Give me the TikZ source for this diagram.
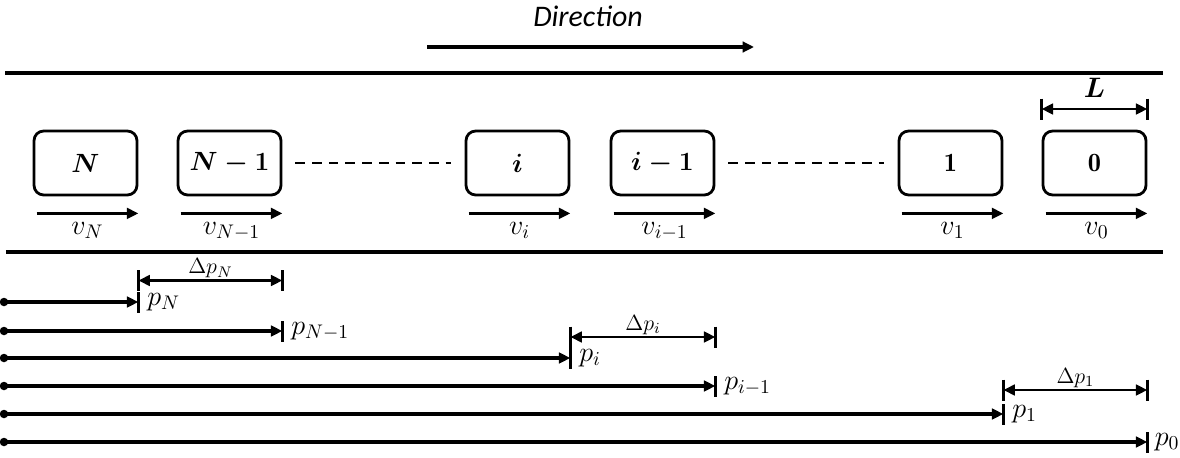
\RequirePackage{fix-cm}
\documentclass[tikz,border=0pt]{standalone}
\usepackage{amsmath}
\usepackage{fontspec}
\newfontfamily\dirfont{Carlito}
\usetikzlibrary{arrows.meta,calc}

\tikzset{
  car/.style={draw, line width=1.6pt, rounded corners=5.5pt, minimum width=2.06cm, minimum height=1.28cm, inner sep=0pt, font=\fontsize{15}{18}\selectfont},
  road/.style={line width=2pt},
  mv/.style={line width=1.8pt, -{Triangle[length=6.5pt,width=6pt]}},
  dimline/.style={line width=1.7pt, {Triangle[length=6.5pt,width=6pt]}-{Triangle[length=6.5pt,width=6pt]}},
  endbar/.style={line width=1.8pt},
  dashgap/.style={line width=1.6pt, dash pattern=on 5.5pt off 4pt, shorten <=0.26cm, shorten >=0.28cm},
  lbl/.style={font=\fontsize{16}{19}\selectfont, inner sep=0pt},
  dlbl/.style={font=\fontsize{12.5}{15}\selectfont, inner sep=0.5pt},
}

\begin{document}
\begin{tikzpicture}
\useasboundingbox (0,0) rectangle (23.6,9.14);

% direction of travel
\node[anchor=base, inner sep=0pt, font=\dirfont\itshape\fontsize{17}{20}\selectfont] (dir) at (11.76,8.60) {Direction};
\coordinate (d1) at (8.54,8.20);
\coordinate (d2) at (15.08,8.20);
\draw[mv] (d1)--(d2);

% road
\coordinate (rt1) at (0.10,7.68);
\coordinate (rt2) at (23.26,7.68);
\coordinate (rb1) at (0.12,4.10);
\coordinate (rb2) at (23.26,4.10);
\draw[road] (rt1)--(rt2);
\draw[road] (rb1)--(rb2);

% vehicles
\node[car] (N) at (1.71,5.88) {$\boldsymbol{N}$};
\node[car] (Nm1) at (4.59,5.88) {$\boldsymbol{N-1}$};
\node[car] (i) at (10.35,5.88) {$\boldsymbol{i}$};
\node[car] (im1) at (13.25,5.88) {$\boldsymbol{i-1}$};
\node[car] (one) at (19.01,5.88) {$\mathbf{1}$};
\node[car] (zero) at (21.89,5.88) {$\mathbf{0}$};

\draw[dashgap] (Nm1.east)--(i.west);
\draw[dashgap] (im1.east)--(one.west);

% length L
\coordinate (yL) at (0,6.96);
\draw[dimline] (zero.west |- yL)--(zero.east |- yL) node[lbl, midway, anchor=base, yshift=0.24cm] (L) {$\boldsymbol{L}$};
\draw[endbar] (zero.west |- yL) ++(0,0.21)--++(0,-0.42);
\draw[endbar] (zero.east |- yL) ++(0,0.21)--++(0,-0.42);

% speeds
\draw[mv] ([xshift=0.08cm,yshift=-0.34cm]N.south west)--([yshift=-0.34cm]N.south east) node[lbl, midway, anchor=base, yshift=-0.42cm] (vN) {$v_N$};
\draw[mv] ([xshift=0.08cm,yshift=-0.34cm]Nm1.south west)--([yshift=-0.34cm]Nm1.south east) node[lbl, midway, anchor=base, yshift=-0.42cm] (vNm1) {$v_{N-1}$};
\draw[mv] ([xshift=0.08cm,yshift=-0.34cm]i.south west)--([yshift=-0.34cm]i.south east) node[lbl, midway, anchor=base, yshift=-0.42cm] (vi) {$v_i$};
\draw[mv] ([xshift=0.08cm,yshift=-0.34cm]im1.south west)--([yshift=-0.34cm]im1.south east) node[lbl, midway, anchor=base, yshift=-0.42cm] (vim1) {$v_{i-1}$};
\draw[mv] ([xshift=0.08cm,yshift=-0.34cm]one.south west)--([yshift=-0.34cm]one.south east) node[lbl, midway, anchor=base, yshift=-0.42cm] (v1) {$v_1$};
\draw[mv] ([xshift=0.08cm,yshift=-0.34cm]zero.south west)--([yshift=-0.34cm]zero.south east) node[lbl, midway, anchor=base, yshift=-0.42cm] (v0) {$v_0$};

% positions
\coordinate (r1) at (0.08,3.10);
\coordinate (r2) at (0.08,2.52);
\coordinate (r3) at (0.08,1.98);
\coordinate (r4) at (0.08,1.42);
\coordinate (r5) at (0.08,0.86);
\coordinate (r6) at (0.08,0.30);

\fill (r1) circle (0.085);
\fill (r2) circle (0.085);
\fill (r3) circle (0.085);
\fill (r4) circle (0.085);
\fill (r5) circle (0.085);
\fill (r6) circle (0.085);

\draw[mv] (r1)--(N.east |- r1);
\draw[mv] (r2)--(Nm1.east |- r2);
\draw[mv] (r3)--(i.east |- r3);
\draw[mv] (r4)--(im1.east |- r4);
\draw[mv] (r5)--(one.east |- r5);
\draw[mv] (r6)--(zero.east |- r6);

\draw[endbar] (N.east |- r1) ++(0,0.2)--++(0,-0.42);
\draw[endbar] (Nm1.east |- r2) ++(0,0.2)--++(0,-0.42);
\draw[endbar] (i.east |- r3) ++(0,0.2)--++(0,-0.42);
\draw[endbar] (im1.east |- r4) ++(0,0.2)--++(0,-0.42);
\draw[endbar] (one.east |- r5) ++(0,0.2)--++(0,-0.42);
\draw[endbar] (zero.east |- r6) ++(0,0.2)--++(0,-0.42);

\node[lbl, anchor=base west] (pN) at ($(N.east |- r1)+(0.17,-0.06)$) {$p_N$};
\node[lbl, anchor=base west] (pNm1) at ($(Nm1.east |- r2)+(0.17,-0.06)$) {$p_{N-1}$};
\node[lbl, anchor=base west] (pi) at ($(i.east |- r3)+(0.17,-0.06)$) {$p_i$};
\node[lbl, anchor=base west] (pim1) at ($(im1.east |- r4)+(0.17,-0.06)$) {$p_{i-1}$};
\node[lbl, anchor=base west] (p1) at ($(one.east |- r5)+(0.17,-0.06)$) {$p_1$};
\node[lbl, anchor=base west] (p0) at ($(zero.east |- r6)+(0.14,-0.06)$) {$p_0$};

% gaps
\coordinate (dN) at (0,3.53);
\coordinate (di) at (0,2.40);
\coordinate (d1g) at (0,1.34);

\draw[dimline] (N.east |- dN)--(Nm1.east |- dN) node[dlbl, midway, above] (DpN) {$\Delta p_N$};
\draw[endbar] (N.east |- dN) ++(0,0.21)--++(0,-0.42);
\draw[endbar] (Nm1.east |- dN) ++(0,0.21)--++(0,-0.42);

\draw[dimline] (i.east |- di)--(im1.east |- di) node[dlbl, midway, above] (Dpi) {$\Delta p_i$};
\draw[endbar] (i.east |- di) ++(0,0.21)--++(0,-0.42);
\draw[endbar] (im1.east |- di) ++(0,0.21)--++(0,-0.42);

\draw[dimline] (one.east |- d1g)--(zero.east |- d1g) node[dlbl, midway, above] (Dp1) {$\Delta p_1$};
\draw[endbar] (one.east |- d1g) ++(0,0.21)--++(0,-0.42);
\draw[endbar] (zero.east |- d1g) ++(0,0.21)--++(0,-0.42);

\end{tikzpicture}
\end{document}
